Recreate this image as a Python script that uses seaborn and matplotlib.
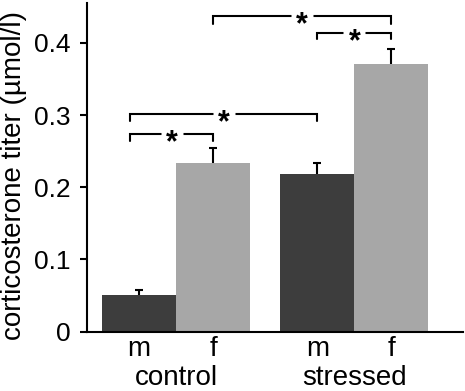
import pandas as pd
import numpy as np
import matplotlib
matplotlib.use('Agg')
import matplotlib.pyplot as plt
import matplotlib.transforms as mtransforms
import seaborn as sns

# data
groups = ['control', 'control', 'stressed', 'stressed']
sexes = ['m', 'f', 'm', 'f']
titer = [0.050, 0.234, 0.218, 0.370]
sem = [0.008, 0.020, 0.015, 0.021]

# significance brackets: left bar, right bar, height of the bar line
br_left = [0, 0, 2, 1]
br_right = [1, 2, 3, 3]
br_height = [0.274, 0.302, 0.414, 0.437]
br_drop = [0.010, 0.010, 0.009, 0.011]

sns.set_style('ticks')
plt.rcParams['font.family'] = ['Liberation Sans', 'DejaVu Sans']
for k in ['text.color', 'axes.labelcolor', 'xtick.color', 'ytick.color']:
    plt.rcParams[k] = 'black'

df = pd.DataFrame({'group': groups, 'sex': sexes, 'titer': titer})

fig = plt.figure(figsize=(4.65, 3.91), dpi=100)
ax = fig.add_axes([0.187, 0.152, 0.809, 0.840])

sns.barplot(data=df, x='group', y='titer', hue='sex',
            palette={'m': '#3d3d3d', 'f': '#a7a7a7'},
            width=0.83, errorbar=None, saturation=1, legend=False,
            linewidth=0, ax=ax, zorder=2)

# bar centres in data coordinates, sorted left to right
xs = sorted(p.get_x() + p.get_width() / 2 for p in ax.patches)

# upper error bars only (lower half is hidden behind the bars)
ax.errorbar(xs, titer, yerr=sem, fmt='none', ecolor='black',
            elinewidth=1.5, capsize=3, capthick=1.5, zorder=1)

# brackets with stars
for l, r, h, d in zip(br_left, br_right, br_height, br_drop):
    x0 = xs[l] - (0.05 if l == 0 else 0)
    x1 = xs[r]
    ax.plot([x0, x0, x1, x1], [h - d, h, h, h - d], color='black', lw=1.5,
            solid_joinstyle='miter', zorder=3, clip_on=False)
    # white box behind the star breaks the line
    ax.plot([(x0 + x1) / 2], [h], marker='s', ms=16, mec='none',
            mfc='white', zorder=3.5)
    ax.annotate('*', xy=((x0 + x1) / 2, h), xytext=(0, -12.5),
                textcoords='offset points', ha='center', va='baseline',
                fontsize=22, fontweight='bold', zorder=4)

ax.set_xlim(-0.5, 1.61)
ax.set_ylim(0, 0.455)
ax.set_yticks([0, 0.1, 0.2, 0.3, 0.4])
ax.set_yticklabels(['0', '0.1', '0.2', '0.3', '0.4'])
ax.set_xticks(xs)
ax.set_xticklabels(sexes)
ax.tick_params(axis='x', length=0, pad=3, labelsize=20)
ax.tick_params(axis='y', direction='out', length=5, width=1.5, pad=7, labelsize=19)

# group labels below the m / f labels
trans = mtransforms.blended_transform_factory(ax.transData, ax.transAxes)
for g in ['control', 'stressed']:
    gx = np.mean([x for x, gg in zip(xs, groups) if gg == g])
    ax.text(gx, -0.14, g, transform=trans, ha='center', va='center', fontsize=20)

ax.set_xlabel('')
ax.set_ylabel('corticosterone titer (µmol/l)', fontsize=20)
ax.yaxis.set_label_coords(-0.16, 0.474)

for s in ['left', 'bottom']:
    ax.spines[s].set_linewidth(1.5)
    ax.spines[s].set_color('black')
sns.despine(ax=ax)

fig.savefig('out.png', dpi=100)
plt.close(fig)
